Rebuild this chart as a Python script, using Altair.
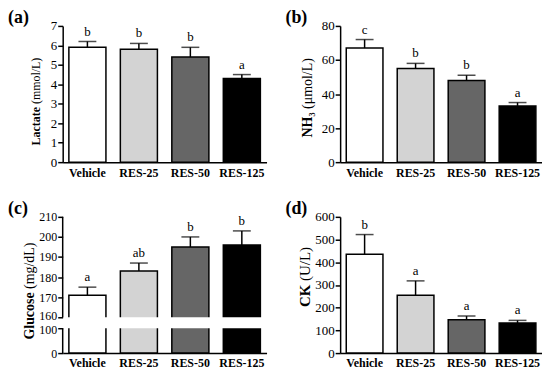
import altair as alt
import pandas as pd

groups = ["Vehicle", "RES-25", "RES-50", "RES-125"]
fills = ["#ffffff", "#d3d3d3", "#666666", "#000000"]

lactate_mean = [5.9, 5.8, 5.4, 4.3]
lactate_err = [0.3, 0.3, 0.5, 0.2]
lactate_letters = ["b", "b", "b", "a"]

nh3_mean = [67, 55, 48, 33]
nh3_err = [5, 3, 3, 2]
nh3_letters = ["c", "b", "b", "a"]

glucose_mean = [171, 183, 195, 196]
glucose_err = [4, 4, 5, 7]
glucose_letters = ["a", "ab", "b", "b"]

ck_mean = [435, 255, 147, 132]
ck_err = [87, 63, 16, 12]
ck_letters = ["b", "a", "a", "a"]

lactate_ticks = [0, 1, 2, 3, 4, 5, 6, 7]
nh3_ticks = [0, 20, 40, 60, 80]
glucose_ticks = [0, 100, 160, 170, 180, 190, 200, 210]
ck_ticks = [0, 100, 200, 300, 400, 500, 600]

glucose_break = [100, 160]

SERIF = "Liberation Serif"


def text_layer(txt, x, y, size, weight="normal", align="left", angle=0, baseline="middle"):
    return alt.Chart(pd.DataFrame({"t": [txt]})).mark_text(
        font=SERIF, fontSize=size, fontWeight=weight, align=align,
        angle=angle, baseline=baseline, color="black"
    ).encode(x=alt.value(x), y=alt.value(y), text="t:N")


def panel(means, errs, letters, ticks, yscale, width, height, label,
          tbold, tnorm, tsize, tx, tanchor, broken=False):
    df = pd.DataFrame({
        "group": groups,
        "mean": means,
        "top": [m + e for m, e in zip(means, errs)],
        "letter": letters,
    })
    base = alt.Chart(df)
    xscale = alt.Scale(paddingInner=0.28, paddingOuter=0.12)
    xaxis = alt.Axis(labelAngle=0, ticks=False, labelFont=SERIF,
                     labelFontWeight="bold", labelFontSize=12,
                     labelPadding=5, domainWidth=1.5, title=None,
                     domainColor="black", labelColor="black")
    if broken:
        yaxis = alt.Axis(values=ticks, tickSize=5, tickWidth=1.5, title=None,
                         tickColor="black", domain=False,
                         labelFont=SERIF, labelFontSize=12, labelOverlap=False,
                         labelOffset={"condition": [
                             {"test": "datum.value == %d" % glucose_break[1], "value": -1.5},
                             {"test": "datum.value == %d" % glucose_break[0], "value": 1.5}],
                             "value": 0},
                         labelColor="black", labelPadding=1, grid=False)
    else:
        yaxis = alt.Axis(values=ticks, tickSize=5, tickWidth=1.5, title=None,
                         tickColor="black", domain=True,
                         domainWidth=1.5, domainColor="black",
                         labelFont=SERIF, labelFontSize=13, labelOverlap=False,
                         labelColor="black", labelPadding=1, grid=False)
    xenc = alt.X("group:N", sort=groups, scale=xscale, axis=xaxis)

    def yenc(field):
        return alt.Y(field, scale=yscale, axis=yaxis)

    bars = base.mark_bar(stroke="black", strokeWidth=1.5).encode(
        x=xenc,
        y=yenc("mean:Q"),
        fill=alt.Fill("group:N", scale=alt.Scale(domain=groups, range=fills),
                      legend=None),
    )
    whisk = base.mark_rule(color="black", strokeWidth=1.5).encode(
        x=xenc, y=yenc("mean:Q"), y2="top:Q")
    caps = base.mark_tick(orient="horizontal", color="black", size=18,
                          thickness=1.5).encode(x=xenc, y=yenc("top:Q"))
    lets = base.mark_text(font=SERIF, fontSize=13, baseline="bottom", dy=-3,
                          color="black").encode(
        x=xenc, y=yenc("top:Q"), text="letter:N")

    layers = [bars]
    if broken:
        mask = alt.Chart(pd.DataFrame({"y0": [glucose_break[0]],
                                       "y1": [glucose_break[1]]})).mark_rect(
            fill="white").encode(
            x=alt.value(1), x2=alt.value(width),
            y=yenc("y0:Q"), y2="y1:Q")
        segs = alt.Chart(pd.DataFrame({"y0": [ticks[0], glucose_break[1]],
                                       "y1": [glucose_break[0], ticks[-1]]})).mark_rule(
            color="black", strokeWidth=1.5).encode(
            x=alt.value(0), y=yenc("y0:Q"), y2="y1:Q")
        layers += [mask, segs]
    layers += [whisk, caps, lets,
               text_layer(tbold, tx, tanchor, tsize, "bold", "right", 270),
               text_layer(tnorm, tx, tanchor - tsize * 0.25, tsize, "normal", "left", 270),
               text_layer(label, -55, -3, 18, "bold", "left", 0, "alphabetic")]
    return alt.layer(*layers).properties(width=width, height=height)


pa = panel(lactate_mean, lactate_err, lactate_letters, lactate_ticks,
           alt.Scale(domain=[0, 7], zero=False, nice=False), 205, 137, "(a)",
           "Lactate", "(mmol/L)", 12, -27, 81.6)
pb = panel(nh3_mean, nh3_err, nh3_letters, nh3_ticks,
           alt.Scale(domain=[0, 80], zero=False, nice=False), 203, 137, "(b)",
           "NH\u2083", "(\u03bcmol/L)", 14, -32, 87)
pc = panel(glucose_mean, glucose_err, glucose_letters, glucose_ticks,
           alt.Scale(domain=[0, 100, 160, 210], range=[137, 112, 101, 0],
                     zero=False, nice=False), 205, 137, "(c)",
           "Glucose", "(mg/dL)", 14, -33, 76, broken=True)
pd_ = panel(ck_mean, ck_err, ck_letters, ck_ticks,
            alt.Scale(domain=[0, 600], zero=False, nice=False), 203, 137, "(d)",
            "CK", "(U/L)", 15, -35, 68.2)

chart = alt.vconcat(
    alt.hconcat(pa, pb, spacing=19),
    alt.hconcat(pc, pd_, spacing=19),
    spacing=22,
).properties(padding=0, background="white").configure_view(stroke=None)

chart.save("out.html", embed_options={"renderer": "svg", "actions": False})
